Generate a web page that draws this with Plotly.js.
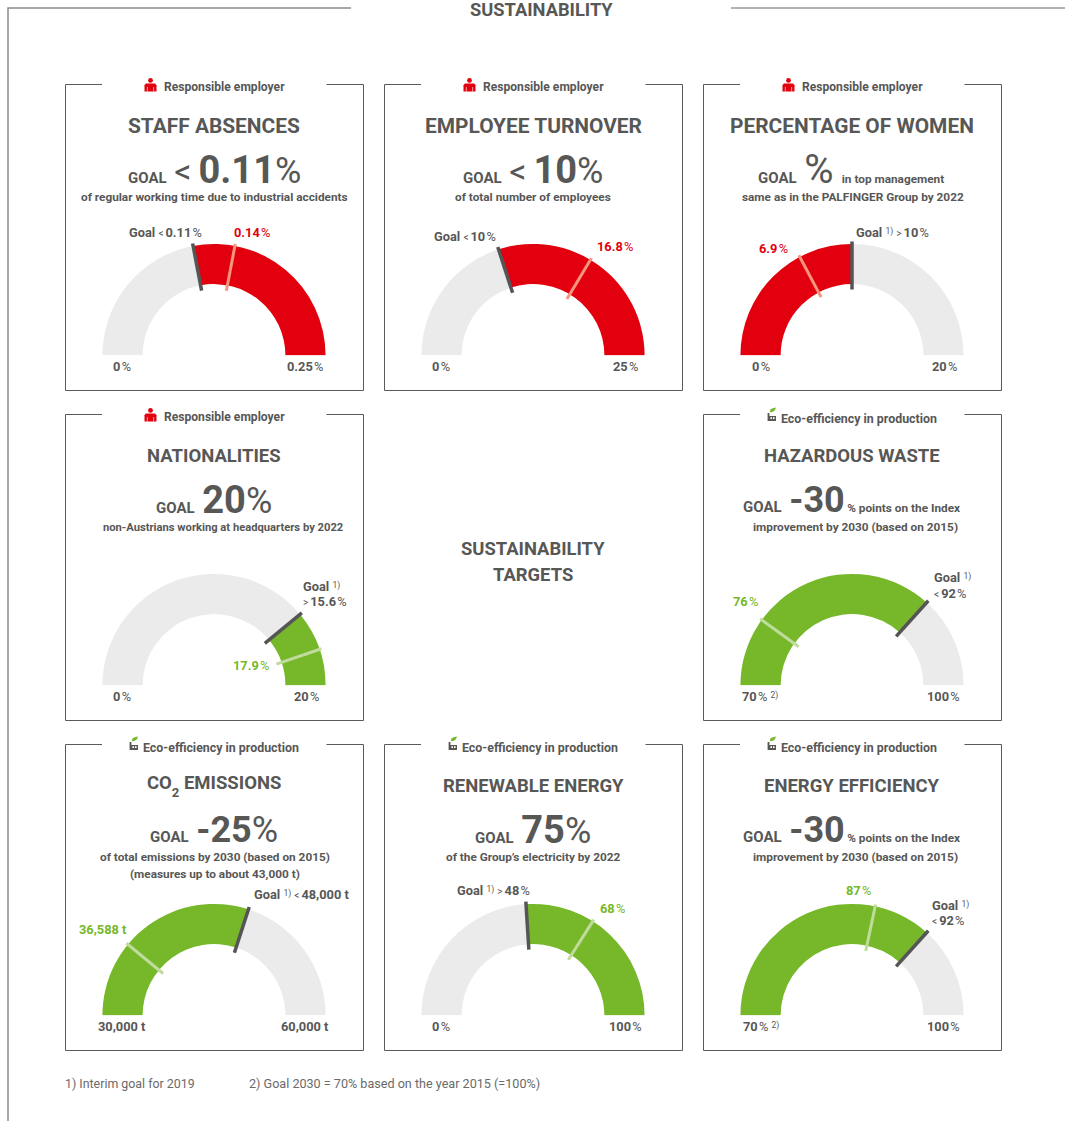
<!DOCTYPE html>
<html>
<head>
<meta charset="utf-8">
<script src="https://cdn.plot.ly/plotly-3.0.1.min.js"></script>
<style>html,body{margin:0;padding:0;background:#fff}</style>
</head>
<body>
<div id="chart" style="width:1065px;height:1121px"></div>
<script>
var FONT = 'Roboto, "Liberation Sans", sans-serif';
var INK = '#575756', RED = '#e2000f', GREEN = '#76b82a', REST = '#ebebeb', FRAME = '#8c8c8c';

// ---- data ----
var gaugeTitles = ['STAFF ABSENCES','EMPLOYEE TURNOVER','PERCENTAGE OF WOMEN','NATIONALITIES','HAZARDOUS WASTE','CO<span style="font-size:13px;baseline-shift:sub">2</span> EMISSIONS','RENEWABLE ENERGY','ENERGY EFFICIENCY'];
var categories = ['Responsible employer','Responsible employer','Responsible employer','Responsible employer','Eco-efficiency in production','Eco-efficiency in production','Eco-efficiency in production','Eco-efficiency in production'];
var scaleMin = [0,0,0,0,70,30000,0,70];
var scaleMax = [0.25,25,20,20,100,60000,100,100];
var goalValues = [0.11,10,10,15.6,92,48000,48,92];
var actualValues = [0.14,16.8,6.9,17.9,76,36588,68,87];
var fillAboveGoal = [true,true,false,true,false,false,true,false];
var fillColors = [RED,RED,RED,GREEN,GREEN,GREEN,GREEN,GREEN];
var markColors = ['#f5957c','#f5957c','#f5957c','#bfdc9c','#bfdc9c','#bfdc9c','#bfdc9c','#bfdc9c'];
var minLabels = ['0 %','0 %','0 %','0 %','70 % ^2)','30,000 t','0 %','70 % ^2)'];
var maxLabels = ['0.25 %','25 %','20 %','20 %','100 %','60,000 t','100 %','100 %'];
var goalLabels = ['Goal ~ 0.11 %','Goal ~ 10 %','Goal ^1) \u203a10 %','Goal ^1)','Goal ^1)','Goal ^1) ~ 48,000 t','Goal ^1) \u203a48 %','Goal ^1)'];
var goalLabels2 = ['','','','\u203a15.6 %','~ 92 %','','','~92 %'];
var actualLabels = ['0.14 %','16.8 %','6.9 %','17.9 %','76 %','36,588 t','68 %','87 %'];
var goalPrefix = ['&lt;','&lt;','','','','','',''];
var goalBig = ['0.11','10','','20','-30','-25','75','-30'];
var goalUnit = ['%','%','%','%','','%','%',''];
var goalTail = ['','','in top management','','% points on the Index','','','% points on the Index'];
var subLines = [
  ['of regular working time due to industrial accidents'],
  ['of total number of employees'],
  ['same as in the PALFINGER Group by 2022'],
  ['non-Austrians working at headquarters by 2022'],
  ['improvement by 2030 (based on 2015)'],
  ['of total emissions by 2030 (based on 2015)','(measures up to about 43,000 t)'],
  ['of the Group\u2019s electricity by 2022'],
  ['improvement by 2030 (based on 2015)']
];
var footnotes = ['1) Interim goal for 2019','2) Goal 2030 = 70% based on the year 2015 (=100%)'];
var pageTitle = 'SUSTAINABILITY';
var centreTitle = ['SUSTAINABILITY','TARGETS'];

// ---- layout of the eight panels (pixels) ----
var panelX = [65.5,384.5,703.5,65.5,703.5,65.5,384.5,703.5];
var panelY = [84.5,84.5,84.5,414.5,414.5,744.5,744.5,744.5];
var goalLabelPos = [[165,233],[465,236],[892,233],[303,586],[934,577],[301,894],[493,890],[932,905]];
var goalLabel2Pos = [null,null,null,[303,601],[934,593],null,null,[932,920]];
var actualLabelPos = [[252,233],[615,247],[773,249],[251,665],[745,601],[103,929],[612,908],[858,890]];
var minLabelX = [122,441,761,122,760,121.5,441,761];
var maxLabelX = [305,625,944,306,943,305,625,943];
var goalLineX = [214,533,851,214,851,214,533,851];
var subX = [214,533,853,223,855,215,533,855];
var subSize = [11.8,11.8,11.8,11.2,11.8,11.8,11.8,11.8];
var headY = [87,87,87,417,418,747,747,747];
var titleSize = [20.9,20.9,20.9,18.5,18.5,18.5,18.5,18.5];
var titleY = [126,126,126,455.5,455.5,785.5,785.5,785.5];
var bigSize = [38,38,0,38,36,36,38,36];

var PW = 298, PH = 306;
var X = function(x){return x/1065;}, Y = function(y){return 1-y/1121;};
var OUT = 111.6, INN = 71.4, SPAN = 130;

var traces = [], annotations = [], shapes = [], layout = {};
function note(x,y,text,size,color,anchor,bold){
  annotations.push({xref:'paper',yref:'paper',x:X(anchor==='left'?x-2:x),y:Y(y),text:bold===false?text:'<b>'+text+'</b>',showarrow:false,
    xanchor:anchor||'center',yanchor:'middle',align:anchor==='left'?'left':'center',
    font:{family:FONT,size:size,color:color||INK}});
}
// gauge label: bold figures, light unit signs, raised footnote marks and small comparison signs
function label(s){
  return ('<b>'+s.replace(/ %/g,'</b>\u200a%<b>')
    .replace(/\^(\d\))/g,'</b><span style="font-size:8.5px;baseline-shift:35%">$1</span><b>')
    .replace(/~ ?/g,'</b><span style="font-size:10px">&lt;\u2009</span><b>')
    .replace(/\u203a ?/g,'</b><span style="font-size:10px">&gt;\u2009</span><b>')+'</b>').replace(/<b><\/b>/g,'');
}
function pth(points){ return points.map(function(p,i){return (i?'L':'M')+X(p[0])+' '+Y(p[1]);}).join(' '); }
function box(x0,y0,x1,y1,c){ shapes.push({type:'rect',xref:'paper',yref:'paper',x0:X(x0),x1:X(x1),y0:Y(y0),y1:Y(y1),fillcolor:c,line:{width:0}}); }
function personIcon(cx,top){
  shapes.push({type:'circle',xref:'paper',yref:'paper',x0:X(cx-2.4),x1:X(cx+2.4),y0:Y(top),y1:Y(top+4.8),fillcolor:RED,line:{width:0}});
  shapes.push({type:'path',xref:'paper',yref:'paper',path:pth([[cx-6,top+13.4],[cx-6,top+7.2],[cx-4.6,top+5.6],[cx+4.6,top+5.6],[cx+6,top+7.2],[cx+6,top+13.4]])+' Z',fillcolor:RED,line:{width:0}});
  box(cx-3.6,top+9,cx-3,top+13.4,'#fff');
  box(cx+3,top+9,cx+3.6,top+13.4,'#fff');
}
function factoryIcon(cx,top){
  shapes.push({type:'path',xref:'paper',yref:'paper',path:pth([[cx-2.2,top+4.8],[cx-1.6,top+2],[cx+0.6,top+0.8],[cx+4,top],[cx+3,top+2.8],[cx+0.4,top+4.6]])+' Z',fillcolor:GREEN,line:{width:0}});
  shapes.push({type:'path',xref:'paper',yref:'paper',path:pth([[cx-4.4,top+13.6],[cx-4.4,top+5.4],[cx-2.6,top+5.4],[cx-2.6,top+8.4],[cx+4,top+8.4],[cx+4,top+13.6]])+' Z',fillcolor:INK,line:{width:0}});
  box(cx-1.6,top+9.8,cx,top+11.4,'#fff');
  box(cx+1,top+9.8,cx+2.6,top+11.4,'#fff');
}

// outer page frame
shapes.push({type:'path',xref:'paper',yref:'paper',path:pth([[8,1121],[8,8],[351,8]]),line:{color:FRAME,width:1.5}});
shapes.push({type:'path',xref:'paper',yref:'paper',path:pth([[731,8],[1065,8]]),line:{color:'#666',width:1}});
note(541,9,pageTitle,18.3,INK);
note(533,548,centreTitle[0],18.4,INK);
note(533,574,centreTitle[1],18.4,INK);
note(65,1083,footnotes[0],12.4,'#6a6a6a','left',false);
note(249,1083,footnotes[1],12.6,'#6a6a6a','left',false);

gaugeTitles.forEach(function(title,i){
  var px = panelX[i], py = panelY[i], cx = px+148.5, cy = py+271;
  // panel frame with gap for the category
  shapes.push({type:'path',xref:'paper',yref:'paper',path:pth([[px+36.5,py],[px,py],[px,py+PH],[px+PW,py+PH],[px+PW,py],[px+PW-37,py]]),line:{color:'#5a5a5a',width:1}});
  // category + icon
  var employer = categories[i].indexOf('Responsible')===0;
  if(employer){ personIcon(px+85,py-6.5); note(px+158.5,headY[i],categories[i],12.1,INK); }
  else { factoryIcon(px+68.5,headY[i]-10.5); note(px+155.5,headY[i],categories[i],12.4,INK); }
  // heading
  note(cx,titleY[i],title,titleSize[i],INK);
  // goal line: spacing is carried inside the visible runs
  var s = '<b><span style="font-size:15px">GOAL\u2002</span></b>';
  if(goalPrefix[i]) s += '<span style="font-size:34px">'+goalPrefix[i]+'\u2009</span>';
  if(goalBig[i]) s += '<b><span style="font-size:'+bigSize[i]+'px">'+goalBig[i]+'</span></b>';
  if(goalUnit[i]) s += '<span style="font-size:'+(goalBig[i]?36:40)+'px">'+goalUnit[i]+(goalTail[i]?'\u2009':'')+'</span>';
  if(goalTail[i]) s += '<b><span style="font-size:11.8px">'+(goalBig[i]?'\u2009':'')+goalTail[i]+'</span></b>';
  note(goalLineX[i],py+85,s,14,INK,'center',false);
  subLines[i].forEach(function(line,k){ note(subX[i],py+112.5+k*17,line,subSize[i],INK); });

  // gauge scale
  var span = scaleMax[i]-scaleMin[i];
  var toDeg = function(v){ return 180*(v-scaleMin[i])/span; };
  var g = toDeg(goalValues[i]), a = toDeg(actualValues[i]);
  var id = i===0?'polar':'polar'+(i+1);
  var barTheta = [g/2,(g+180)/2], barWidth = [g,180-g];
  var barColors = fillAboveGoal[i]?[REST,fillColors[i]]:[fillColors[i],REST];
  traces.push({type:'barpolar',subplot:id,theta:barTheta,width:barWidth,r:[OUT-INN,OUT-INN],base:[INN,INN],
    marker:{color:barColors,line:{width:0}},hoverinfo:'skip',showlegend:false});
  traces.push({type:'scatterpolar',subplot:id,mode:'lines',theta:[a,a],r:[66,113.5],line:{color:markColors[i],width:3},hoverinfo:'skip',showlegend:false});
  traces.push({type:'scatterpolar',subplot:id,mode:'lines',theta:[g,g],r:[66,114],line:{color:'#555555',width:3.5},hoverinfo:'skip',showlegend:false});
  layout[id] = {
    domain:{x:[X(cx-SPAN),X(cx+SPAN)],y:[Y(cy),Y(cy-SPAN)]},
    sector:[0,180],bgcolor:'rgba(0,0,0,0)',
    radialaxis:{range:[0,SPAN],visible:false},
    angularaxis:{visible:false,direction:'clockwise',rotation:180,thetaunit:'degrees'}
  };
  // gauge labels
  var two = goalLabels2[i] !== '';
  note(goalLabelPos[i][0],goalLabelPos[i][1],label(goalLabels[i]),12.8,INK,two?'left':'center',false);
  if(two) note(goalLabel2Pos[i][0],goalLabel2Pos[i][1],label(goalLabels2[i]),12.8,INK,'left',false);
  note(actualLabelPos[i][0],actualLabelPos[i][1],label(actualLabels[i]),12.8,fillColors[i],'center',false);
  note(minLabelX[i],cy+11,label(minLabels[i]),12.8,INK,'center',false);
  note(maxLabelX[i],cy+11,label(maxLabels[i]),12.8,INK,'center',false);
});

layout.width = 1065; layout.height = 1121; layout.autosize = false;
layout.margin = {l:0,r:0,t:0,b:0,pad:0};
layout.paper_bgcolor = '#ffffff'; layout.plot_bgcolor = '#ffffff';
layout.showlegend = false;
layout.shapes = shapes; layout.annotations = annotations;
layout.font = {family:FONT,color:INK};
Plotly.newPlot('chart',traces,layout,{displayModeBar:false,staticPlot:true});
</script>
</body>
</html>
